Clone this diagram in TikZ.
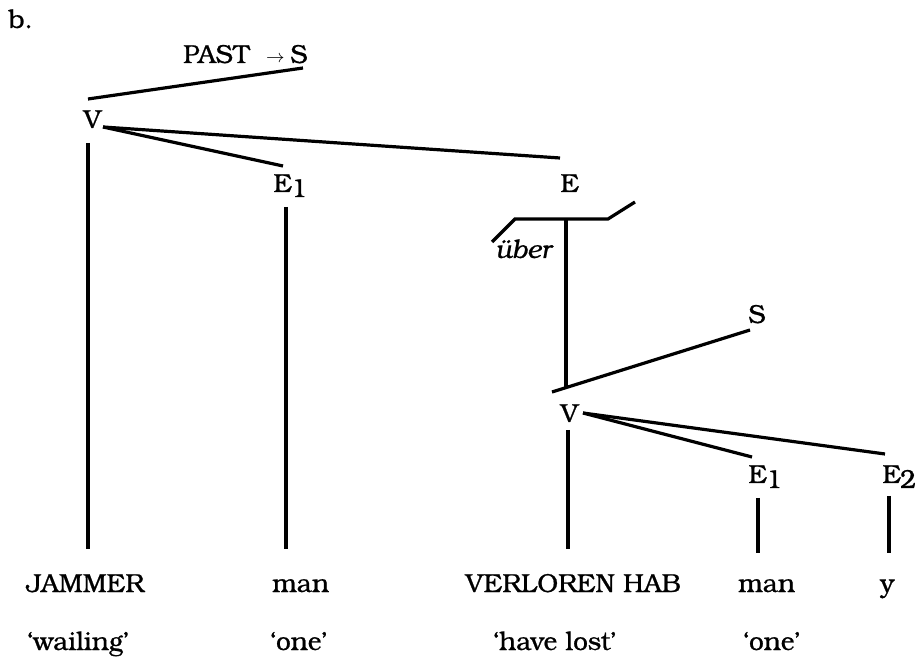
\documentclass[tikz,border=0pt]{standalone}
\usepackage{fontspec}
\setmainfont{TeX Gyre Bonum}[FakeBold=0.8]
\begin{document}
\begin{tikzpicture}[x=0.5pt,y=-0.5pt,
  lbl/.style={inner sep=0pt, anchor=base west, font=\fontsize{13pt}{15.5pt}\selectfont},
  edge/.style={line width=1.6pt}]
\useasboundingbox (0,0) rectangle (915,667);
% labels
\node[lbl] (b) at (8,28) {b.};
\node[lbl] (s0) at (290,63) {S};
\node[lbl, anchor=base east] (past) at ([xshift=-2.5pt]s0.base west) {PAST\ \ {\fontsize{9pt}{10pt}\selectfont$\rightarrow$}};
\node[lbl] (v1) at (83,128) {V};
\node[lbl] (e1) at (273,192) {E\kern-0.5pt\raisebox{-2.5pt}{1}};
\node[lbl] (e) at (560,192) {E};
\node[lbl] (uber) at (495,258) {\itshape über};
\node[lbl] (s1) at (748,323) {S};
\node[lbl] (v2) at (560,422) {V};
\node[lbl] (e1b) at (748,483) {E\kern-0.5pt\raisebox{-2.5pt}{1}};
\node[lbl] (e2) at (882,483) {E\kern-0.5pt\raisebox{-2.5pt}{2}};
% bottom words
\node[lbl] (jammer) at (26,592) {JAMMER};
\node[lbl] (man1) at (272,592) {man};
\node[lbl] (verl) at (465,592) {VERLOREN HAB};
\node[lbl] (man2) at (738,592) {man};
\node[lbl] (yy) at (880,592) {y};
% glosses
\node[lbl] (g1) at (27,650) {`wailing'};
\node[lbl] (g2) at (270,650) {`one'};
\node[lbl] (g3) at (493,650) {`have lost'};
\node[lbl] (g4) at (743,650) {`one'};
% connectors
\draw[edge] ([shift={(5,-29)}]v1.base west) -- ([shift={(13,5)}]s0.base west);
\draw[edge] ([shift={(20,-1)}]v1.base west) -- ([shift={(10,-26)}]e1.base west);
\draw[edge] ([shift={(20,-1)}]v1.base west) -- ([shift={(0,-34)}]e.base west);
\draw[edge] ([shift={(5,15)}]v1.base west) -- ([shift={(62,-43)}]jammer.base west);
\draw[edge] ([shift={(13,15)}]e1.base west) -- ([shift={(14,-43)}]man1.base west);
% bracket under E
\draw[edge] ([shift={(-68,50)}]e.base west) -- ([shift={(-45,27)}]e.base west)
  -- ([shift={(48,27)}]e.base west) -- ([shift={(75,10)}]e.base west);
\draw[edge] ([shift={(6,27)}]e.base west) -- ([shift={(6,-35)}]v2.base west);
% lower tree
\draw[edge] ([shift={(-8,-30)}]v2.base west) -- ([shift={(2,7)}]s1.base west);
\draw[edge] ([shift={(8,8)}]v2.base west) -- ([shift={(103,-43)}]verl.base west);
\draw[edge] ([shift={(23,-9)}]v2.base west) -- ([shift={(4,-26)}]e1b.base west);
\draw[edge] ([shift={(23,-9)}]v2.base west) -- ([shift={(3,-29)}]e2.base west);
\draw[edge] ([shift={(10,15)}]e1b.base west) -- ([shift={(20,-39)}]man2.base west);
\draw[edge] ([shift={(7,13)}]e2.base west) -- ([shift={(9,-39)}]yy.base west);
\end{tikzpicture}
\end{document}
